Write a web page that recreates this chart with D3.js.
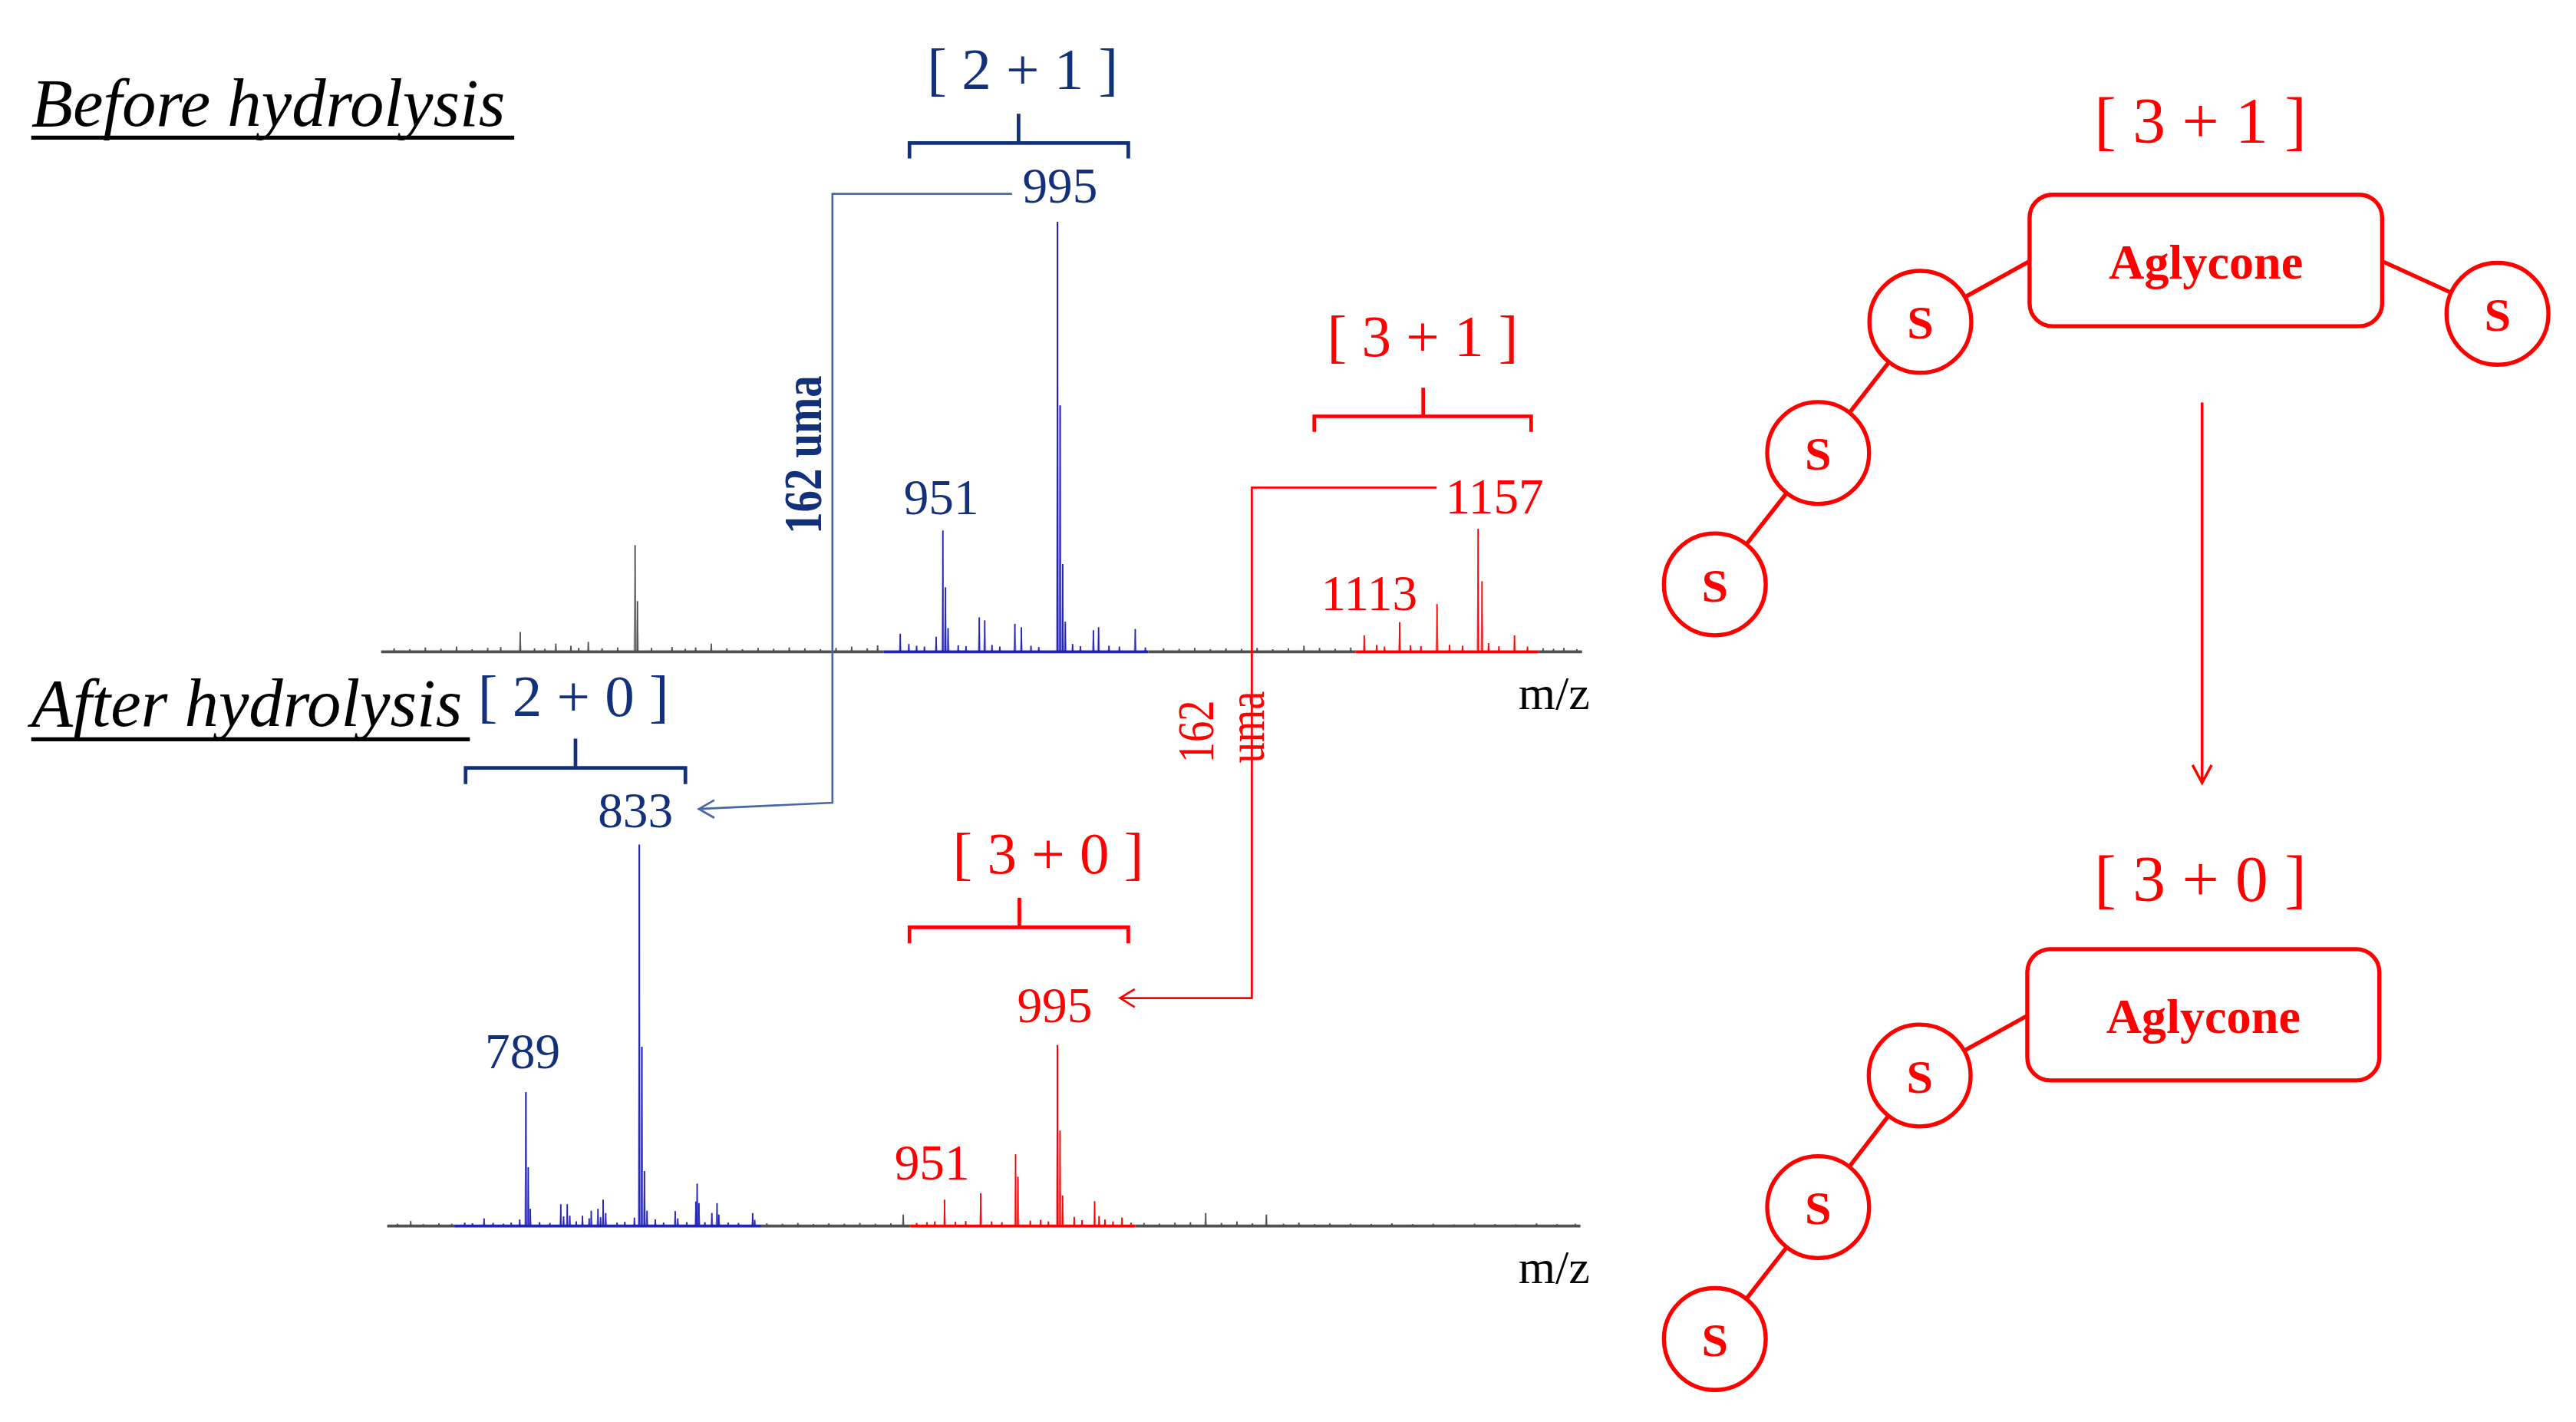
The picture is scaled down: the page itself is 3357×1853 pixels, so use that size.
<!DOCTYPE html>
<html>
<head>
<meta charset="utf-8">
<script src="https://cdn.jsdelivr.net/npm/d3@7/dist/d3.min.js"></script>
<style>
  html, body { margin: 0; padding: 0; background: #ffffff; }
  svg { display: block; }
</style>
</head>
<body>
<div id="chart"></div>
<script>
// ---------------- DATA ----------------
// Before hydrolysis spectrum: m/z and relative intensity (%)
const topMz = [
  740, 746, 752, 758, 764, 770, 776, 781, 788.5, 794, 798, 802.2, 808, 811, 814.7, 820, 826,
  832.7, 833.6, 839, 846.9, 852, 856, 862, 868, 874, 880, 886, 892, 898, 904, 910, 916, 922, 926,
  934.7, 938, 941, 944, 948.5, 951.1, 952.1, 953.1, 957, 960, 965.1, 967.2, 970, 973, 978.8, 981.3,
  985, 988, 995.2, 996.2, 997.2, 998.2, 1001, 1004, 1009, 1011, 1015, 1019, 1025.1, 1029,
  1036, 1042, 1048, 1054, 1060, 1066, 1072, 1078, 1084, 1090, 1096, 1102, 1108,
  1113.2, 1118, 1121, 1126.8, 1131, 1135, 1141.2, 1146, 1151, 1157, 1158.5, 1161, 1165, 1171,
  1176, 1182, 1186, 1190, 1195
];
const topInt = [
  0.8, 0.6, 1.0, 0.7, 1.2, 0.6, 0.9, 1.1, 4.6, 0.8, 0.7, 1.9, 1.4, 0.9, 2.3, 0.8, 1.0,
  24.8, 11.8, 0.9, 1.1, 0.7, 1.0, 1.9, 0.8, 0.6, 0.9, 0.7, 1.0, 0.8, 0.6, 0.9, 1.2, 0.8, 1.5,
  4.2, 1.8, 1.4, 1.2, 3.5, 28.2, 15.0, 5.5, 1.5, 1.3, 8.0, 7.3, 1.6, 1.2, 6.5, 5.7,
  1.4, 1.1, 100, 57.3, 20.4, 7.0, 1.8, 1.3, 5.0, 5.7, 1.4, 1.2, 5.3, 1.0,
  0.8, 0.7, 0.9, 0.6, 0.8, 0.7, 0.9, 0.6, 0.8, 1.4, 0.9, 0.7, 1.0,
  3.8, 1.6, 1.2, 6.9, 1.5, 1.3, 11.1, 1.6, 1.4, 28.6, 16.4, 2.0, 1.3, 3.8,
  1.2, 0.8, 0.7, 0.9, 0.6
];
// After hydrolysis spectrum
const botMz = [
  739, 744.1, 749, 755, 760, 765, 768, 772.5, 776, 780, 783, 786.3, 788.7, 789.6, 790.4, 794, 798,
  802.2, 803.3, 804.7, 805.7, 808.2, 810.6, 813.2, 814.0, 816.6, 817.6, 818.6, 819.6, 824, 827,
  830.7, 832.6, 833.6, 834.6, 835.6, 838.8, 842, 846.5, 847.5, 851, 854.5, 855, 855.7, 858,
  860.7, 862.7, 863.4, 867, 871, 876.5, 877.3, 882, 888, 894, 900, 906, 912, 918, 924, 930,
  934.8, 940, 944, 947, 950.8, 955, 959, 964.8, 969, 973, 978.3, 979.2, 984, 988, 991,
  994.5, 995.5, 996.5, 1001, 1004, 1008.9, 1010.6, 1012.9, 1016, 1019.5, 1023,
  1028, 1034, 1040, 1046, 1051.9, 1058, 1064, 1070, 1075.4, 1082, 1088, 1094, 1100,
  1108, 1116, 1124, 1132, 1140, 1148, 1156, 1164, 1172, 1180, 1188, 1195
];
const botInt = [
  0.6, 1.3, 0.5, 0.7, 0.6, 0.9, 0.7, 2.0, 0.8, 0.6, 0.9, 1.7, 35.1, 15.4, 4.5, 1.0, 0.8,
  5.7, 2.5, 5.7, 2.7, 1.2, 2.7, 2.0, 4.0, 4.5, 2.3, 6.9, 3.4, 0.9, 1.1,
  2.2, 100, 47, 14.4, 4.0, 1.7, 0.9, 3.9, 2.0, 1.0, 6.4, 11.1, 6.0, 1.0,
  3.4, 6.0, 3.0, 0.9, 0.8, 3.4, 1.6, 0.7, 0.6, 0.8, 0.5, 0.7, 0.6, 0.8, 0.6, 0.7,
  3.0, 0.8, 1.0, 1.2, 6.9, 1.1, 1.3, 8.6, 1.2, 1.0, 18.8, 12.9, 1.4, 1.6, 1.2,
  47.4, 25.0, 8.0, 2.4, 1.5, 6.5, 2.6, 1.7, 1.2, 2.2, 0.9,
  0.8, 0.6, 0.9, 1.0, 3.4, 0.8, 1.2, 0.7, 3.0, 0.6, 0.9, 0.5, 0.7,
  0.6, 0.5, 0.7, 0.5, 0.6, 0.4, 0.6, 0.5, 0.4, 0.7, 0.5, 0.6
];
// m/z windows coloured as ion families
const topBlueRange = [928.4, 1030.1];
const topRedRange  = [1109.8, 1180.2];
const botBlueRange = [761, 879.8];
const botRedRange  = [937.5, 1024.6];
const mzDomain = [735, 1197];

// Peak labels (m/z)
const topLabels = ["951", "995", "1113", "1157"];
const botLabels = ["789", "833", "951", "995"];
const groupLabels = ["[ 2 + 1 ]", "[ 3 + 1 ]", "[ 2 + 0 ]", "[ 3 + 0 ]"];
const lossLabel = "162 uma";
const titles = ["Before hydrolysis", "After hydrolysis"];
const axisLabel = "m/z";
const unitLabel = "S";
const coreLabel = "Aglycone";

// ---------------- DRAWING ----------------
const W = 3357, H = 1853;
const k = W / 1568;
const VH = H / k;

const navy = "#13307a";
const connBlue = "#4867a6";
const specBlue = "#2323b4";
const red = "#ff0000";
const grey = "#505050";
const serif = "'Liberation Serif','Times New Roman',Times,serif";

const svg = d3.select("#chart").append("svg")
  .attr("width", W).attr("height", H)
  .attr("viewBox", `0 0 1568 ${VH}`);

svg.append("rect").attr("x", 0).attr("y", 0).attr("width", 1568).attr("height", VH).attr("fill", "#fff");

const xTop = d3.scaleLinear().domain(mzDomain).range([232, 963]);
const yTop = d3.scaleLinear().domain([0, 100]).range([396.7, 135]);
const xBot = d3.scaleLinear().domain(mzDomain).range([235.7, 962]);
const yBot = d3.scaleLinear().domain([0, 100]).range([746.2, 514]);

function colorFor(m, blue, rd) {
  if (m >= blue[0] && m <= blue[1]) return specBlue;
  if (m >= rd[0] && m <= rd[1]) return red;
  return grey;
}

function drawSpectrum(mz, inten, x, y, blue, rd) {
  const g = svg.append("g");
  const data = mz.map((m, i) => ({ m, v: inten[i] }));
  // baseline segments
  const bounds = [mzDomain[0], blue[0], blue[1], rd[0], rd[1], mzDomain[1]].sort((a, b) => a - b);
  for (let i = 0; i < bounds.length - 1; i++) {
    const mid = (bounds[i] + bounds[i + 1]) / 2;
    g.append("line")
      .attr("x1", x(bounds[i])).attr("x2", x(bounds[i + 1]))
      .attr("y1", y(0)).attr("y2", y(0))
      .attr("stroke", colorFor(mid, blue, rd))
      .attr("stroke-width", 1.7);
  }
  // peak halos
  g.selectAll("path.halo").data(data).join("path")
    .attr("class", "halo")
    .attr("d", d => {
      const px = x(d.m), py = y(d.v), b = y(0);
      return `M${px - 1.1},${b} L${px},${py} L${px + 1.1},${b} Z`;
    })
    .attr("fill", d => colorFor(d.m, blue, rd))
    .attr("fill-opacity", 0.35);
  // peaks
  g.selectAll("line.peak").data(data).join("line")
    .attr("class", "peak")
    .attr("x1", d => x(d.m)).attr("x2", d => x(d.m))
    .attr("y1", y(0)).attr("y2", d => y(d.v))
    .attr("stroke", d => colorFor(d.m, blue, rd))
    .attr("stroke-width", d => d.v > 30 ? 1.0 : 0.9);
}

drawSpectrum(topMz, topInt, xTop, yTop, topBlueRange, topRedRange);
drawSpectrum(botMz, botInt, xBot, yBot, botBlueRange, botRedRange);

function txt(s, x, y, size, color, opts = {}) {
  const t = svg.append("text")
    .attr("x", x).attr("y", y)
    .attr("font-family", serif)
    .attr("font-size", size)
    .attr("fill", color)
    .attr("text-anchor", opts.anchor || "middle")
    .text(s);
  if (opts.italic) t.attr("font-style", "italic");
  if (opts.bold) t.attr("font-weight", "bold");
  return t;
}

// Titles
txt(titles[0], 19, 76.8, 41.5, "#000", { anchor: "start", italic: true });
svg.append("line").attr("x1", 19).attr("x2", 313).attr("y1", 83.8).attr("y2", 83.8)
  .attr("stroke", "#000").attr("stroke-width", 2.4);
txt(titles[1], 19, 442, 41.5, "#000", { anchor: "start", italic: true });
svg.append("line").attr("x1", 19).attr("x2", 286).attr("y1", 450).attr("y2", 450)
  .attr("stroke", "#000").attr("stroke-width", 2.4);

// m/z labels
txt(axisLabel, 946, 431.5, 29, "#000");
txt(axisLabel, 946, 781, 29, "#000");

// Brackets
function bracket(x1, x2, yH, yBottom, xc, yTopTick, color) {
  svg.append("path")
    .attr("d", `M${x1},${yBottom} V${yH} H${x2} V${yBottom} M${xc},${yH} V${yTopTick}`)
    .attr("fill", "none").attr("stroke", color).attr("stroke-width", 2.2);
}
bracket(553.6, 686.8, 87.1, 96.5, 620, 69.2, navy);
bracket(800, 932, 253.4, 262.8, 866.3, 236, red);
bracket(283.4, 417.2, 467.4, 477.2, 350.3, 449.6, navy);
bracket(553.6, 686.8, 564.4, 574.2, 620.5, 546.5, red);

// Group labels
txt(groupLabels[0], 622.5, 54, 36, navy);
txt(groupLabels[1], 866, 216.8, 36, red);
txt(groupLabels[2], 349, 435.8, 36, navy);
txt(groupLabels[3], 638, 531.6, 36, red);

// Peak labels (top)
txt(topLabels[0], xTop(951.1) - 1, 313, 30.5, navy);
txt(topLabels[1], xTop(995.2) + 1.5, 123.3, 30.5, navy);
txt(topLabels[2], xTop(1113.2) + 3, 371.3, 30.5, red);
txt(topLabels[3], xTop(1157) + 10, 312.3, 30.5, red);
// Peak labels (bottom)
txt(botLabels[0], xBot(788.7) - 2, 650, 30.5, navy);
txt(botLabels[1], xBot(832.6) - 2.3, 503.4, 30.5, navy);
txt(botLabels[2], xBot(950.8) - 7.6, 718, 30.5, red);
txt(botLabels[3], xBot(994.5) - 1.7, 622, 30.5, red);

// Connectors with open arrowheads
svg.append("path")
  .attr("d", "M616,118 H506.7 V488.6 L425.4,492.4 M434.8,487 L425.4,492.4 L434.8,497.8")
  .attr("fill", "none").attr("stroke", connBlue).attr("stroke-width", 1.25);
svg.append("path")
  .attr("d", "M874.5,296.8 H762 V607.5 H681.8 M690.7,602 L681.8,607.5 L690.7,613")
  .attr("fill", "none").attr("stroke", red).attr("stroke-width", 1.25);

// Rotated loss labels
function rotText(s, x, y, size, color, bold) {
  const t = svg.append("text")
    .attr("transform", `translate(${x},${y}) rotate(-90) scale(1,1.22)`)
    .attr("font-family", serif).attr("font-size", size)
    .attr("fill", color).attr("text-anchor", "middle")
    .text(s);
  if (bold) t.attr("font-weight", "bold");
  return t;
}
rotText(lossLabel, 500, 276.8, 26.5, navy, true);
const parts = lossLabel.split(" ");
rotText(parts[0], 738.5, 445.3, 25.5, red, false);
rotText(parts[1], 769.5, 442.6, 25.5, red, false);

// ---------------- Structures ----------------
function structure(boxX, boxY, boxW, boxH, sugars, rightSugar, labelY, aglyBase, titleText, titleBase) {
  const g = svg.append("g");
  const lw = 2.5;
  // links
  const linkL = [boxX, boxY + 40.5];
  const chain = [linkL].concat(sugars);
  for (let i = 0; i < chain.length - 1; i++) {
    g.append("line")
      .attr("x1", chain[i][0]).attr("y1", chain[i][1])
      .attr("x2", chain[i + 1][0]).attr("y2", chain[i + 1][1])
      .attr("stroke", red).attr("stroke-width", lw);
  }
  if (rightSugar) {
    g.append("line")
      .attr("x1", boxX + boxW).attr("y1", boxY + 40.5)
      .attr("x2", rightSugar[0]).attr("y2", rightSugar[1])
      .attr("stroke", red).attr("stroke-width", lw);
  }
  g.append("rect")
    .attr("x", boxX).attr("y", boxY).attr("width", boxW).attr("height", boxH)
    .attr("rx", 14).attr("ry", 14)
    .attr("fill", "#fff").attr("stroke", red).attr("stroke-width", lw);
  g.append("text")
    .attr("x", boxX + boxW / 2).attr("y", aglyBase)
    .attr("font-family", serif).attr("font-size", 30).attr("font-weight", "bold")
    .attr("fill", red).attr("text-anchor", "middle")
    .text(coreLabel);
  const all = rightSugar ? sugars.concat([rightSugar]) : sugars;
  all.forEach(c => {
    g.append("circle").attr("cx", c[0]).attr("cy", c[1]).attr("r", 31)
      .attr("fill", "#fff").attr("stroke", red).attr("stroke-width", lw);
    g.append("text").attr("x", c[0]).attr("y", c[1] + 10.3)
      .attr("font-family", serif).attr("font-size", 29).attr("font-weight", "bold")
      .attr("fill", red).attr("text-anchor", "middle").text(unitLabel);
  });
  g.append("text")
    .attr("x", 1339.4).attr("y", titleBase)
    .attr("font-family", serif).attr("font-size", 40)
    .attr("fill", red).attr("text-anchor", "middle")
    .text(titleText);
}

structure(1235.4, 118.5, 214.6, 80.1,
  [[1168.9, 195.9], [1106.7, 275.7], [1043.8, 355.7]], [1520.2, 191],
  0, 169.6, groupLabels[1], 87);
structure(1234, 577.7, 214.3, 79.9,
  [[1168.5, 654.6], [1106.7, 734.7], [1043.8, 815]], null,
  0, 628.8, groupLabels[3], 548.2);

// Reaction arrow
svg.append("path")
  .attr("d", "M1340.4,245 V476.5 M1334.6,465.6 L1340.4,476.5 L1346.2,465.6")
  .attr("fill", "none").attr("stroke", red).attr("stroke-width", 1.6);
</script>
</body>
</html>
